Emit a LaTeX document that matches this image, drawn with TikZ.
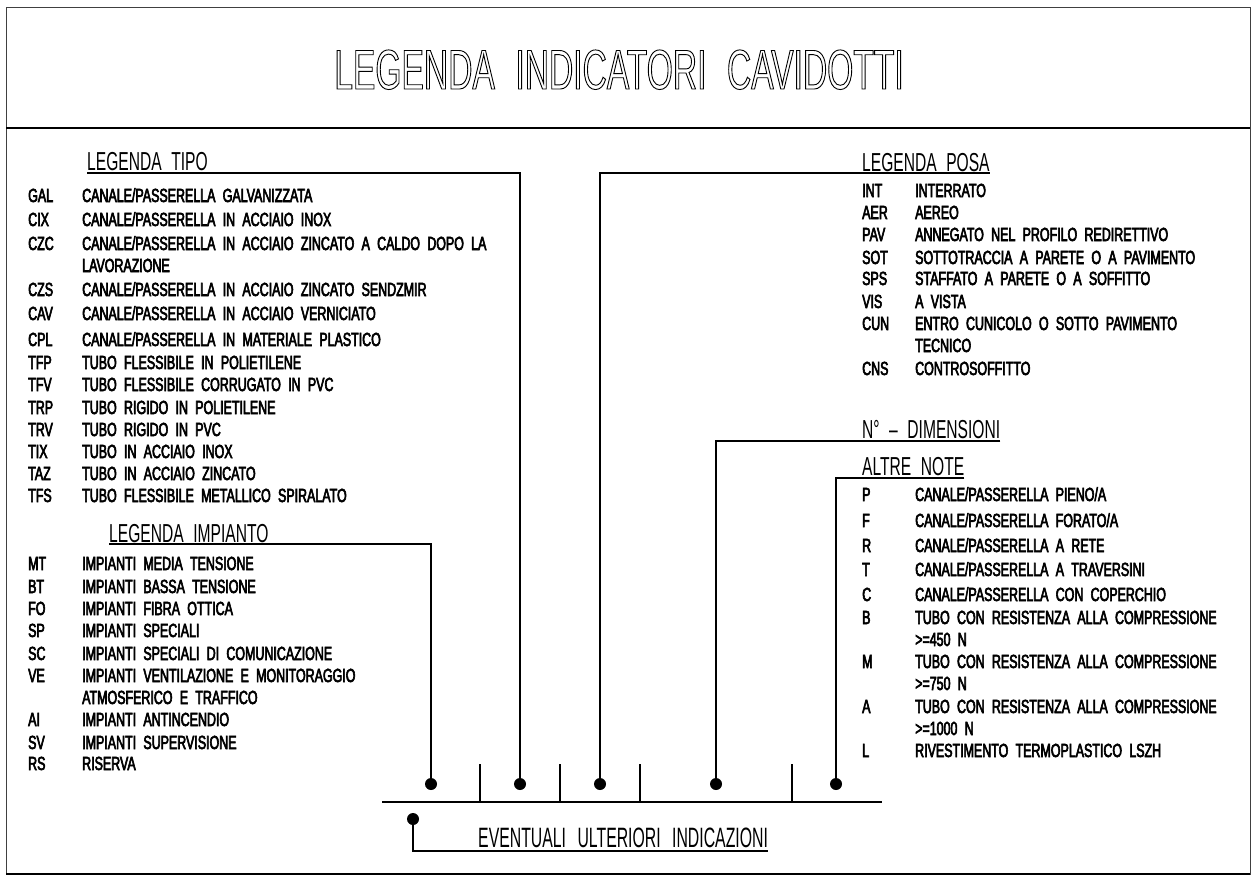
\documentclass[tikz,border=0pt]{standalone}
\usepackage{fontspec}
\newfontfamily\bodyfont[FakeStretch=0.655,WordSpace=2.1]{Liberation Sans}
\newfontfamily\ttlfont[FakeStretch=0.60,WordSpace=2.6]{Liberation Sans}
\newfontfamily\hdfont[FakeStretch=0.60,WordSpace=2.2]{Liberation Sans}
\newfontfamily\evfont[FakeStretch=0.565,WordSpace=2.6]{Liberation Sans}
\newcommand\outlinetext[1]{\special{pdf:literal direct 1 Tr 0.9 w}#1\special{pdf:literal direct 0 Tr}}
\newcommand\heavytext[1]{\special{pdf:literal direct 2 Tr 0.6 w}#1\special{pdf:literal direct 0 Tr}}
\begin{document}
\begin{tikzpicture}[x=1pt,y=-1pt,
  body/.style={font={\bodyfont\fontsize{19pt}{19pt}\selectfont},inner sep=0pt,anchor=base west},
  head/.style={font={\hdfont\fontsize{26pt}{26pt}\selectfont},inner sep=0pt,anchor=base west},
  ttl/.style={font={\ttlfont\fontsize{56pt}{56pt}\selectfont},inner sep=0pt,anchor=base},
  evtxt/.style={font={\evfont\fontsize{28pt}{28pt}\selectfont},inner sep=0pt,anchor=base west},
  dot/.style={circle,fill=black,draw=none,inner sep=0pt,minimum size=12pt},
  conn/.style={line width=1.8pt,line cap=butt},
  tick/.style={line width=1.5pt},
  frame/.style={line width=1pt,draw=black!75},
  ]
\useasboundingbox (0,0) rectangle (1257,891);
% frame
\draw[frame] (6,8) rectangle (1250,874);
\draw[line width=2.2pt] (6,128) -- (1250,128);
\draw[line width=2.6pt] (6,874) -- (1250,874);
% title
\node[ttl] (title) at (619,89) {\outlinetext{LEGENDA INDICATORI CAVIDOTTI}};

% headings
\node[head] (hTipo) at (87,170) {LEGENDA TIPO};
\node[head] (hImp) at (109,542) {LEGENDA IMPIANTO};
\node[head] (hPosa) at (862,171) {LEGENDA POSA};
\node[head] (hDim) at (862,438) {N° – DIMENSIONI};
\node[head] (hNote) at (862,475) {ALTRE NOTE};

% legenda tipo
\foreach \c/\d/\y [count=\i] in {
  GAL/{CANALE/PASSERELLA GALVANIZZATA}/195,
  CIX/{CANALE/PASSERELLA IN ACCIAIO INOX}/219,
  CZC/{CANALE/PASSERELLA IN ACCIAIO ZINCATO A CALDO DOPO LA}/243,
  {}/{LAVORAZIONE}/265,
  CZS/{CANALE/PASSERELLA IN ACCIAIO ZINCATO SENDZMIR}/289,
  CAV/{CANALE/PASSERELLA IN ACCIAIO VERNICIATO}/313,
  CPL/{CANALE/PASSERELLA IN MATERIALE PLASTICO}/339,
  TFP/{TUBO FLESSIBILE IN POLIETILENE}/362,
  TFV/{TUBO FLESSIBILE CORRUGATO IN PVC}/384,
  TRP/{TUBO RIGIDO IN POLIETILENE}/407,
  TRV/{TUBO RIGIDO IN PVC}/429,
  TIX/{TUBO IN ACCIAIO INOX}/451,
  TAZ/{TUBO IN ACCIAIO ZINCATO}/473,
  TFS/{TUBO FLESSIBILE METALLICO SPIRALATO}/495}
{
  \node[body] (tc\i) at (28,{\y+7}) {\heavytext{\c}};
  \node[body] (td\i) at (82,{\y+7}) {\heavytext{\d}};
}

% legenda impianto
\foreach \c/\d/\y [count=\i] in {
  MT/{IMPIANTI MEDIA TENSIONE}/563,
  BT/{IMPIANTI BASSA TENSIONE}/586,
  FO/{IMPIANTI FIBRA OTTICA}/608,
  SP/{IMPIANTI SPECIALI}/630,
  SC/{IMPIANTI SPECIALI DI COMUNICAZIONE}/653,
  VE/{IMPIANTI VENTILAZIONE E MONITORAGGIO}/675,
  {}/{ATMOSFERICO E TRAFFICO}/697,
  AI/{IMPIANTI ANTINCENDIO}/719,
  SV/{IMPIANTI SUPERVISIONE}/742,
  RS/{RISERVA}/763}
{
  \node[body] (ic\i) at (28,{\y+7}) {\heavytext{\c}};
  \node[body] (id\i) at (82,{\y+7}) {\heavytext{\d}};
}

% legenda posa
\foreach \c/\d/\y [count=\i] in {
  INT/{INTERRATO}/190,
  AER/{AEREO}/212,
  PAV/{ANNEGATO NEL PROFILO REDIRETTIVO}/234,
  SOT/{SOTTOTRACCIA A PARETE O A PAVIMENTO}/257,
  SPS/{STAFFATO A PARETE O A SOFFITTO}/278,
  VIS/{A VISTA}/301,
  CUN/{ENTRO CUNICOLO O SOTTO PAVIMENTO}/323,
  {}/{TECNICO}/345,
  CNS/{CONTROSOFFITTO}/368}
{
  \node[body] (pc\i) at (862,{\y+7}) {\heavytext{\c}};
  \node[body] (pd\i) at (915,{\y+7}) {\heavytext{\d}};
}

% altre note
\foreach \c/\d/\y [count=\i] in {
  P/{CANALE/PASSERELLA PIENO/A}/494,
  F/{CANALE/PASSERELLA FORATO/A}/520,
  R/{CANALE/PASSERELLA A RETE}/545,
  T/{CANALE/PASSERELLA A TRAVERSINI}/569,
  C/{CANALE/PASSERELLA CON COPERCHIO}/594,
  B/{TUBO CON RESISTENZA ALLA COMPRESSIONE}/617,
  {}/{>=450 N}/639,
  M/{TUBO CON RESISTENZA ALLA COMPRESSIONE}/661,
  {}/{>=750 N}/683,
  A/{TUBO CON RESISTENZA ALLA COMPRESSIONE}/706,
  {}/{>=1000 N}/728,
  L/{RIVESTIMENTO TERMOPLASTICO LSZH}/750}
{
  \node[body] (nc\i) at (862,{\y+7}) {\heavytext{\c}};
  \node[body] (nd\i) at (915,{\y+7}) {\heavytext{\d}};
}

% dots
\node[dot] (dImp) at (431,784) {};
\node[dot] (dTipo) at (520,784) {};
\node[dot] (dPosa) at (600,784) {};
\node[dot] (dDim) at (716,784) {};
\node[dot] (dNote) at (836,784) {};
\node[dot] (dEv) at (413,819) {};

% connectors (underline + leader)
\draw[conn] ([yshift=-3pt]hTipo.base west) -| (dTipo);
\draw[conn] ([yshift=-2pt]hImp.base west) -| (dImp);
\draw[conn] ([yshift=-2pt]hPosa.base east) -| (dPosa);
\draw[conn] ([yshift=-3pt]hDim.base east) -| (dDim);
\draw[conn] ([yshift=-3pt]hNote.base east) -| (dNote);

% base line and ticks
\coordinate (bl) at (382,802);
\coordinate (br) at (882,802);
\draw[conn] (bl) -- (br);
\foreach \x in {480,560,640,792} \draw[tick] (\x,764) -- (\x,802);

% eventuali
\node[evtxt] (ev) at (478,847) {EVENTUALI ULTERIORI INDICAZIONI};
\draw[conn] (dEv) |- ([yshift=-4pt]ev.base east);
\end{tikzpicture}
\end{document}
